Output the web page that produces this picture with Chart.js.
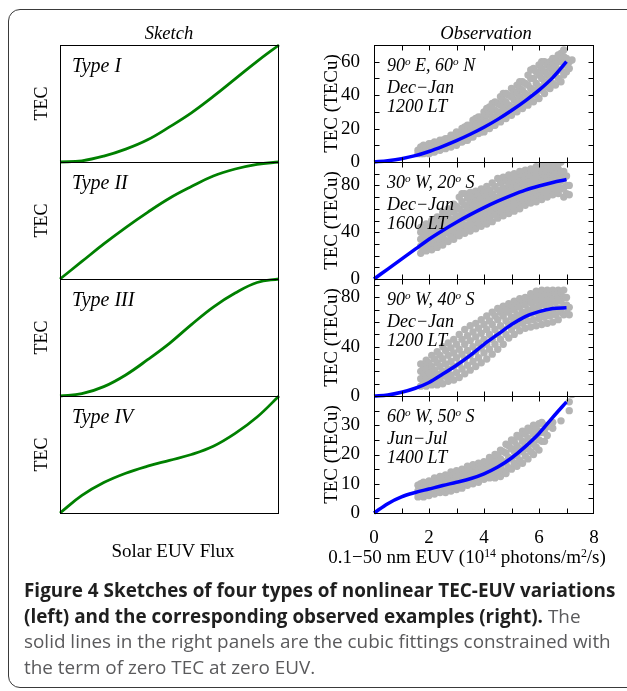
<!DOCTYPE html>
<html>
<head>
<meta charset="utf-8">
<script src="https://cdn.jsdelivr.net/npm/chart.js@4.4.1/dist/chart.umd.min.js"></script>
<style>
  body { margin: 0; width: 627px; height: 691px; background: #fff; position: relative; overflow: hidden; }
  .frame { position: absolute; left: 8px; top: 9px; width: 700px; height: 679px; border: 1.5px solid #3a3a3a; border-radius: 12px; box-sizing: border-box; }
  canvas { position: absolute; top: 0; }
  .lbl { position: absolute; font-family: "Liberation Serif", serif; color: #000; white-space: nowrap; line-height: 1; }
  .it { font-style: italic; }
  .ctr { transform: translate(-50%, -50%); }
  .note { position: absolute; font-family: "Liberation Serif", serif; font-style: italic; font-size: 18px; line-height: 19.5px; color: #000; white-space: nowrap; }
  sup { font-size: 62%; vertical-align: 0; position: relative; top: -0.55em; }
  .caption { position: absolute; left: 24px; top: 578px; font-family: "Open Sans", sans-serif; font-size: 18.9px; line-height: 25.5px; color: #5a5a5c; }
  .caption div { white-space: nowrap; }
  .caption b { color: #1f1f1f; }
</style>
</head>
<body>
<div class="frame"></div>
<canvas id="sketchChart" width="300" height="545" style="left:0"></canvas>
<canvas id="obsChart" width="327" height="545" style="left:300px"></canvas>

<div class="lbl it ctr" style="left:169px; top:33px; font-size:18.5px">Sketch</div>
<div class="lbl it ctr" style="left:486px; top:33px; font-size:18.5px">Observation</div>

<div class="lbl it" style="left:72px; top:55px; font-size:20px">Type I</div>
<div class="lbl it" style="left:72px; top:172px; font-size:20px">Type II</div>
<div class="lbl it" style="left:72px; top:289px; font-size:20px">Type III</div>
<div class="lbl it" style="left:72px; top:406px; font-size:20px">Type IV</div>

<div class="note" style="left:387px; top:56px">90<sup>o</sup> E, 60<sup>o</sup> N<br>Dec&minus;Jan<br>1200 LT</div>
<div class="note" style="left:387px; top:173px">30<sup>o</sup> W, 20<sup>o</sup> S<br>Dec&minus;Jan<br>1600 LT</div>
<div class="note" style="left:387px; top:290px">90<sup>o</sup> W, 40<sup>o</sup> S<br>Dec&minus;Jan<br>1200 LT</div>
<div class="note" style="left:387px; top:407px">60<sup>o</sup> W, 50<sup>o</sup> S<br>Jun&minus;Jul<br>1400 LT</div>

<div class="lbl ctr" style="left:173px; top:550px; font-size:19px">Solar EUV Flux</div>
<div class="lbl ctr" style="left:467px; top:556px; font-size:19px">0.1&minus;50 nm EUV (10<sup>14</sup> photons/m<sup>2</sup>/s)</div>

<div class="caption">
  <div><b>Figure 4 Sketches of four types of nonlinear TEC-EUV variations</b></div>
  <div><b>(left) and the corresponding observed examples (right).</b> The</div>
  <div>solid lines in the right panels are the cubic fittings constrained with</div>
  <div>the term of zero TEC at zero EUV.</div>
</div>

<script>
// sketch curves (normalised flux vs normalised TEC)
const sketchX = [0, 0.1, 0.2, 0.3, 0.4, 0.5, 0.6, 0.7, 0.8, 0.9, 1.0];
const typeI   = [0, 0.01, 0.05, 0.11, 0.19, 0.30, 0.42, 0.56, 0.71, 0.86, 1.0];
const typeII  = [0, 0.15, 0.30, 0.44, 0.57, 0.69, 0.79, 0.88, 0.94, 0.98, 1.0];
const typeIII = [0, 0.02, 0.08, 0.18, 0.31, 0.45, 0.61, 0.76, 0.88, 0.97, 1.0];
const typeIV  = [0, 0.15, 0.26, 0.34, 0.40, 0.45, 0.50, 0.57, 0.68, 0.82, 1.0];

// observed cubic fits, EUV in 1e14 photons/m2/s
const fitX = [0, 0.5, 1, 1.5, 2, 2.5, 3, 3.5, 4, 4.5, 5, 5.5, 6, 6.5, 7];
const fit1 = [0, 0.8, 2, 3.8, 6.3, 9.4, 12.8, 16.6, 20.8, 25.5, 30.8, 36.6, 43, 50.5, 60];
const fit2 = [0, 8.5, 17, 25.5, 34, 41.5, 48.5, 55, 61, 66.5, 71.5, 76, 79.5, 82.5, 85];
const fit3 = [0, 0.8, 3, 6.3, 11, 17.8, 25, 33, 42, 50, 58, 64.5, 68.5, 71, 71.6];
const fit4 = [0, 3.2, 5.5, 7, 8.2, 9.4, 10.5, 11.7, 13.4, 15.7, 18.8, 22.7, 27.2, 32.7, 38];

// observed points: each row is [EUV, TEC, TEC, ...] read column by column
const obs1 = [
    [1.6,5,7],[1.7,5,7,9],[1.8,5,7,8,10],[1.9,6,8,9],[2.0,5,7,9,11],[2.1,6,8,10,11],
    [2.2,6,8,10,12],[2.3,8,10,11],[2.4,7,9,11,13],[2.5,9,11,13],[2.6,8,10,12,14],[2.7,10,12,14],
    [2.8,9,12,14,16],[2.9,11,13,16],[3.0,10,13,15,18],[3.1,12,15,17],[3.2,12,15,17,20],[3.3,13,16,19,21],
    [3.4,13,16,19,22],[3.5,15,18,22],[3.6,15,18,22,25],[3.7,17,20,24,26],[3.8,17,20,24,27],[3.9,18,23,27],
    [4.0,18,22,26,30],[4.1,20,24,28,32],[4.2,20,24,29,33],[4.3,22,27,32,35],[4.4,22,27,31,36],[4.5,25,30,35],
    [4.6,24,29,34,39],[4.7,26,32,37,41],[4.8,26,31,36,41],[4.9,29,34,40],[5.0,28,33,39,44],[5.1,31,37,42],
    [5.2,30,35,41,46],[5.3,33,39,44,48],[5.4,32,37,43,48],[5.5,35,41,47],[5.6,34,40,46,52],[5.7,37,44,50,55],
    [5.8,36,43,50,56],[5.9,40,47,54],[6.0,38,45,52,58],[6.1,43,50,56,60],[6.2,41,48,54,60],[6.3,45,52,58],
    [6.4,44,50,56,60],[6.5,47,54,59,62],[6.6,46,52,57,62],[6.7,50,55,60,64],[6.8,48,55,60,65],[6.9,52,59,63,67],
    [7.0,54,58,62],[7.1,56,60],[7.2,61]
];
const obs2 = [
    [1.7,22,28,34,40,44],[1.8,26,32,38,44],[1.9,24,30,36,42,47],[2.0,27,34,40,46],[2.1,25,32,38,44,50],
    [2.2,29,36,42,49],[2.3,27,34,41,48,53],[2.4,31,38,45,52],[2.5,29,36,43,50,57],[2.6,33,40,48,55],
    [2.7,32,39,46,53,60],[2.8,36,43,51,58],[2.9,34,41,49,57,64],[3.0,39,46,54,62],[3.1,37,44,52,60,70],
    [3.2,41,49,57,66,73],[3.3,39,46,54,63,73],[3.4,44,52,60,69],[3.5,41,49,57,65,74],[3.6,46,54,62,70],
    [3.7,43,51,59,67,75],[3.8,48,56,64,72],[3.9,45,53,61,69,77],[4.0,50,58,66,74],[4.1,47,55,63,71,79],
    [4.2,52,60,68,76],[4.3,49,57,65,73,82],[4.4,55,62,70,79],[4.5,52,60,68,76,86],[4.6,57,65,73,82],
    [4.7,54,62,70,78,87],[4.8,59,67,75,84],[4.9,56,64,72,80,89],[5.0,61,69,77,85],[5.1,58,66,74,82,90],
    [5.2,63,71,79,87],[5.3,60,68,76,84,92],[5.4,65,73,81,89],[5.5,63,70,78,86,93],[5.6,67,75,83,90],
    [5.7,65,72,80,88,94],[5.8,69,77,85,92],[5.9,66,74,82,90,96],[6.0,71,79,87,94],[6.1,68,76,84,91,97],
    [6.2,73,80,88,95],[6.3,70,78,85,92,97],[6.4,75,82,89,96],[6.5,72,79,86,93,97],[6.6,76,83,90,96],
    [6.7,73,80,87,94,99],[6.8,77,84,91,100],[6.9,70,78,86,92],[7.0,73,80,88],[7.1,72,80]
];
const obs3 = [
    [1.7,8,14,20,26],[1.8,11,17,24],[1.9,8,15,22,29],[2.0,12,19,27],[2.1,9,16,24,33],
    [2.2,13,21,30],[2.3,9,18,27,36],[2.4,14,24,33],[2.5,10,20,30,40],[2.6,16,26,37],
    [2.7,12,22,33,43],[2.8,17,28,39],[2.9,13,24,35,46],[3.0,19,31,42],[3.1,15,26,38,50],
    [3.2,22,34,46],[3.3,18,30,42,54],[3.4,25,37,49],[3.5,21,33,45,57],[3.6,28,40,52],
    [3.7,24,36,48,59],[3.8,31,43,55],[3.9,27,39,51,62],[4.0,35,46,58],[4.1,30,42,54,65],
    [4.2,38,50,61],[4.3,34,46,58,68],[4.4,42,54,65],[4.5,38,50,62,71],[4.6,46,57,68],
    [4.7,42,54,65,73],[4.8,50,61,70],[4.9,47,58,68,75],[5.0,54,64,73],[5.1,50,61,70,77],
    [5.2,57,66,75],[5.3,53,63,72,79],[5.4,59,68,77],[5.5,55,65,74,80],[5.6,61,70,79],
    [5.7,56,67,76,83],[5.8,62,72,80],[5.9,57,68,77,85],[6.0,63,73,81],[6.1,58,68,78,86],
    [6.2,64,74,82],[6.3,59,69,78,86],[6.4,65,75,83],[6.5,60,70,79,86],[6.6,66,76,84],
    [6.7,62,71,80,86],[6.8,68,77,84],[6.9,66,73,80,86],[7.0,67,74,80],[7.1,66,72]
];
const obs4 = [
    [1.6,5.5,7.5,9.5],[1.7,6.5,8.5,10],[1.8,5.5,7.5,9,10.5],[1.9,6.5,8.5,10],[2.0,6,8,9.5,11],
    [2.1,7,9,10.5],[2.2,6.5,8.5,10,12],[2.3,7.5,9.5,11],[2.4,7,9,10.5,12.5],[2.5,8,10,12],
    [2.6,7,9.5,11.5,13],[2.7,8.5,10.5,12.5],[2.8,7.5,10,12,14],[2.9,9,11,13],[3.0,8,10.5,12.5,14.5],
    [3.1,9.5,11.5,14],[3.2,8.5,11,13,15],[3.3,10,12,14.5],[3.4,9.5,11.5,14,16],[3.5,11,13,15],
    [3.6,10,12,14.5,16.5],[3.7,11,14,16],[3.8,10.5,13,15,17],[3.9,12,14,16.5],[4.0,11.5,13.5,15.5,17.5],
    [4.1,12.5,15,17],[4.2,12,14,16.5,19],[4.3,13,16,18],[4.4,12,15,17.5,20],[4.5,13.5,16.5,19.5],
    [4.6,12.5,15.5,18.5,21.5],[4.7,14.5,17.5,21],[4.8,13.5,17,20.5,23.5],[4.9,15.5,19,23],[5.0,15,18.5,22,25],
    [5.1,17,21,24.5],[5.2,16,19.5,23,26.5],[5.3,18,22,26],[5.4,17,21,24.5,28],[5.5,19.5,23,27],
    [5.6,18.5,22,25.5,29],[5.7,21,24.5,28],[5.8,20,23.5,27,30],[5.9,22.5,26,29],[6.0,21.5,25,28,30.5],
    [6.1,24.5,27.5,31],[6.2,24.5,27.5,30],[6.3,26.5,29.5],[6.5,29,31],[6.8,31.5],[7.1,35,38],[7.2,40.5]
];

// axis ranges per observation panel, top to bottom
const yMax = [70, 100, 95, 40];
const yStep = [10, 10, 10, 5];
const yLabelStep = [20, 40, 40, 10];
const xTickLabels = [0, 2, 4, 6, 8];

const SERIF = '"Liberation Serif", serif';

function pairs(xs, ys) {
    return xs.map(function(x, i) { return { x: x, y: ys[i] }; });
}

function columnsToPoints(rows) {
    const pts = [];
    rows.forEach(function(row) {
        for (let k = 1; k < row.length; k++) pts.push({ x: row[0], y: row[k] });
    });
    return pts;
}

// draws panel frames and inward tick marks
const frameTicks = {
    id: 'frameTicks',
    afterDraw: function(chart, args, opts) {
        const ctx = chart.ctx;
        const xs = chart.scales.x;
        const l = Math.round(xs.left) + 0.5, r = Math.round(xs.right) - 0.5;
        ctx.save();
        ctx.strokeStyle = '#000';
        ctx.lineWidth = 1;
        opts.axes.forEach(function(id) {
            const s = chart.scales[id];
            const t = Math.round(s.top) + 0.5, b = Math.round(s.bottom) + 0.5;
            ctx.strokeRect(l, t, r - l, b - t);
            if (!opts.ticks) return;
            ctx.beginPath();
            s.ticks.forEach(function(tk) {
                if (tk.value <= s.min || tk.value >= s.max) return;
                const py = Math.round(s.getPixelForValue(tk.value)) + 0.5;
                ctx.moveTo(l, py); ctx.lineTo(l + 5, py);
                ctx.moveTo(r, py); ctx.lineTo(r - 5, py);
            });
            xs.ticks.forEach(function(tk) {
                if (tk.value <= xs.min || tk.value >= xs.max) return;
                const px = Math.round(xs.getPixelForValue(tk.value)) + 0.5;
                ctx.moveTo(px, t); ctx.lineTo(px, t + 5);
                ctx.moveTo(px, b); ctx.lineTo(px, b - 5);
            });
            ctx.stroke();
        });
        ctx.restore();
    }
};

// --- Sketch column ---
const sketchSeries = [typeI, typeII, typeIII, typeIV];
const sketchScales = { x: { type: 'linear', min: 0, max: 1, display: false } };
// stacked axes: later keys are placed higher
['s4', 's3', 's2', 's1'].forEach(function(id) {
    sketchScales[id] = {
        type: 'linear', position: 'left', stack: 'sketch', stackWeight: 1,
        min: 0, max: 1,
        grid: { display: false }, border: { display: false },
        ticks: { display: false },
        title: { display: true, text: 'TEC', color: '#000', font: { family: SERIF, size: 18 }, padding: { top: 31, bottom: 0 } },
        afterFit: function(scale) { scale.width = 60; }
    };
});

new Chart(document.getElementById('sketchChart'), {
    type: 'line',
    data: {
        datasets: sketchSeries.map(function(ys, i) {
            return {
                data: pairs(sketchX, ys),
                yAxisID: 's' + (i + 1),
                borderColor: '#008000',
                borderWidth: 2.8,
                pointRadius: 0,
                tension: 0.4,
                clip: false
            };
        })
    },
    options: {
        responsive: false,
        animation: false,
        devicePixelRatio: 1,
        layout: { padding: { top: 45, right: 21, bottom: 32, left: 0 } },
        scales: sketchScales,
        plugins: {
            legend: { display: false },
            tooltip: { enabled: false },
            frameTicks: { axes: ['s1', 's2', 's3', 's4'], ticks: false }
        }
    },
    plugins: [frameTicks]
});

// --- Observation column ---
const obsPoints = [obs1, obs2, obs3, obs4];
const obsFits = [fit1, fit2, fit3, fit4];
const obsScales = {
    x: {
        type: 'linear', min: 0, max: 8,
        grid: { display: false }, border: { display: false },
        ticks: {
            stepSize: 1, autoSkip: false, maxRotation: 0, padding: 6, color: '#000',
            font: { family: SERIF, size: 19 },
            callback: function(v) { return xTickLabels.indexOf(v) >= 0 ? String(v) : ''; }
        },
        afterFit: function(scale) { scale.height = 32; }
    }
};
[3, 2, 1, 0].forEach(function(i) {
    obsScales['o' + (i + 1)] = {
        type: 'linear', position: 'left', stack: 'obs', stackWeight: 1,
        min: 0, max: yMax[i],
        grid: { display: false }, border: { display: false },
        ticks: {
            stepSize: yStep[i], includeBounds: false, autoSkip: false, padding: 6, color: '#000',
            font: { family: SERIF, size: 19 },
            callback: function(v) { return (v % yLabelStep[i] === 0 && v < yMax[i]) ? String(v) : ''; }
        },
        title: { display: true, text: 'TEC (TECu)', color: '#000', font: { family: SERIF, size: 19 }, padding: { top: 21, bottom: 0 } },
        afterFit: function(scale) { scale.width = 74; }
    };
});

const obsDatasets = [];
obsPoints.forEach(function(rows, i) {
    obsDatasets.push({
        type: 'scatter',
        data: columnsToPoints(rows),
        yAxisID: 'o' + (i + 1),
        backgroundColor: '#b4b4b4',
        borderWidth: 0,
        pointRadius: 3.7,
        order: 2
    });
});
obsFits.forEach(function(ys, i) {
    obsDatasets.push({
        type: 'line',
        data: pairs(fitX, ys),
        yAxisID: 'o' + (i + 1),
        borderColor: '#0000ff',
        borderWidth: 3.5,
        pointRadius: 0,
        cubicInterpolationMode: 'monotone',
        clip: false,
        order: 1
    });
});

new Chart(document.getElementById('obsChart'), {
    type: 'line',
    data: { datasets: obsDatasets },
    options: {
        responsive: false,
        animation: false,
        devicePixelRatio: 1,
        layout: { padding: { top: 45, right: 33, bottom: 0, left: 0 } },
        scales: obsScales,
        plugins: {
            legend: { display: false },
            tooltip: { enabled: false },
            frameTicks: { axes: ['o1', 'o2', 'o3', 'o4'], ticks: true }
        }
    },
    plugins: [frameTicks]
});
</script>
</body>
</html>
